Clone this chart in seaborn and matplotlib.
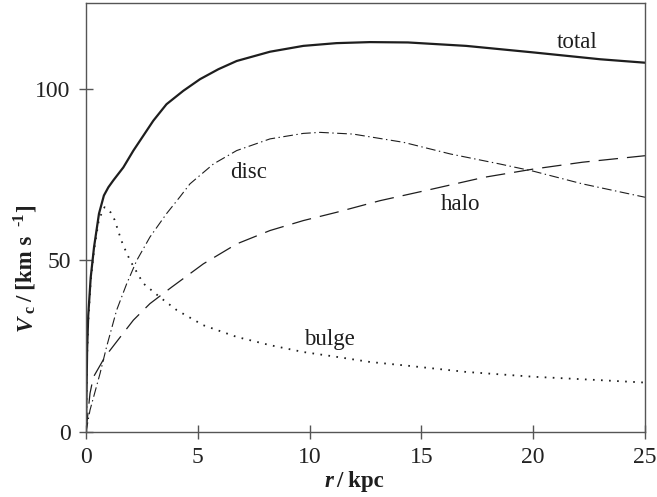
"""Rotation curve decomposition: total, disc, halo, bulge."""

import matplotlib
matplotlib.use("Agg")
import matplotlib.pyplot as plt
import pandas as pd
import seaborn as sns

# radius (kpc) and circular velocity (km/s)
total_r = [0, 0.05, 0.1, 0.21, 0.36, 0.58, 0.8, 1.0, 1.22, 1.67, 2.12, 2.56, 3.01,
           3.6, 4.35, 5.1, 5.92, 6.74, 8.23, 9.72, 11.2, 12.7, 14.4, 17, 20, 23, 25]
total_v = [0, 24, 34, 45, 53.9, 63.6, 68.9, 71.3, 73.3, 77.1, 82, 86.3, 90.7,
           95.5, 99.4, 102.8, 105.7, 108.1, 110.8, 112.5, 113.3, 113.6, 113.5,
           112.5, 110.6, 108.6, 107.6]

disc_r = [0, 0.18, 0.63, 0.92, 1.37, 1.82, 2.27, 2.86, 3.6, 4.2, 4.65, 5.7, 6.74,
          8.23, 9.72, 10.47, 11.95, 14.2, 16.3, 18.5, 20, 22.2, 25]
disc_v = [0, 6.4, 17.1, 24.8, 35.5, 43.2, 50, 56.8, 63.6, 68.5, 72.3, 78.1, 82,
          85.4, 87, 87.3, 86.8, 84.4, 81, 78.1, 76, 72.3, 68.4]

halo_r = [0, 0.18, 0.33, 0.85, 1.37, 2.12, 2.86, 3.83, 5.25, 6.74, 8.23, 9.72,
          11.2, 13.15, 15.5, 17.8, 20, 22.2, 25]
halo_v = [0, 11.3, 16, 21.9, 26.3, 32.6, 37.4, 42.2, 49, 54.8, 58.7, 61.6,
          64, 67.4, 70.8, 74.2, 76.6, 78.6, 80.5]

bulge_r = [0, 0.05, 0.1, 0.21, 0.36, 0.58, 0.83, 1.1, 1.28, 1.4, 1.52, 1.65, 1.97,
           2.56, 3.3, 4.06, 5.25, 6.74, 8.23, 9.72, 11.2, 12.7, 14.4, 17, 20, 23, 25]
bulge_v = [0, 22, 32, 44, 53, 62, 65.5, 64, 61.8, 59.4, 57, 54.6, 50,
           43.3, 39.3, 35.5, 31.1, 27.7, 25.3, 23.3, 21.9, 20.4, 19.3, 17.5, 16.1,
           15.1, 14.4]

x_ticks = [0, 5, 10, 15, 20, 25]
y_ticks = [0, 50, 100]

sns.set_theme(style="ticks", rc={"xtick.direction": "inout",
                                 "ytick.direction": "inout"})
plt.rcParams["font.family"] = ["Liberation Serif", "DejaVu Serif"]
plt.rcParams["lines.scale_dashes"] = False

ink = "#1e1e1e"
frame = "#555555"
fig = plt.figure(figsize=(6.57, 4.97), dpi=100)
ax = fig.add_axes([0.1309, 0.1308, 0.8508, 0.8632])

curves = [
    (total_r, total_v, dict(lw=1.6, linestyle="-")),
    (disc_r, disc_v, dict(lw=0.8, linestyle=(0, (7, 2.5, 1, 2.5)))),
    (halo_r, halo_v, dict(lw=0.9, linestyle=(0, (14, 6.5)))),
    (bulge_r, bulge_v, dict(lw=1.3, linestyle=(0, (1.2, 4.6)))),
]
for r, v, style in curves:
    df = pd.DataFrame({"r": r, "v": v})
    sns.lineplot(data=df, x="r", y="v", ax=ax, color=ink, errorbar=None, **style)

label_kw = dict(fontsize=16.5, color=ink, ha="center", va="baseline")
ax.text(21.98, 111.9, "total", **label_kw)
ax.text(7.27, 74.1, "disc", **label_kw)
ax.text(16.74, 64.8, "halo", **label_kw)
ax.text(10.9, 25.3, "bulge", **label_kw)

ax.set_xlim(0, 25)
ax.set_ylim(0, 125)
ax.set_xticks(x_ticks)
ax.set_yticks(y_ticks)
for s in ax.spines.values():
    s.set_visible(True)
    s.set_color(frame)
    s.set_linewidth(1.0)

ax.tick_params(bottom=True, left=True, top=False, right=False,
               direction="inout", length=10, width=1.0, color=frame,
               labelcolor="#222222", labelsize=17, pad=6)

# axis titles built from pieces: italic symbol, sub/superscripts, bold units
ax.set_xlabel("")
ax.set_ylabel("")
bold = dict(fontsize=16.5, fontweight="bold", color=ink)
fig.text(0.508, 0.020, "r", fontstyle="italic", ha="right", va="baseline", **bold)
fig.text(0.512, 0.020, "/ kpc", ha="left", va="baseline", **bold)

ty = fig.text(0.040, 0.335, "V", fontstyle="italic", rotation=90,
              ha="center", va="bottom", **bold)
fig.text(0.047, 0.370, "c", rotation=90, ha="center", va="bottom",
         fontsize=11.5, fontweight="bold", color=ink)
fig.text(0.040, 0.392, "/ [km s", rotation=90, ha="center", va="bottom", **bold)
fig.text(0.030, 0.545, "-1", rotation=90, ha="center", va="bottom",
         fontsize=11.5, fontweight="bold", color=ink)
fig.text(0.040, 0.573, "]", rotation=90, ha="center", va="bottom", **bold)

fig.savefig("out.png", dpi=100)
plt.close(fig)
